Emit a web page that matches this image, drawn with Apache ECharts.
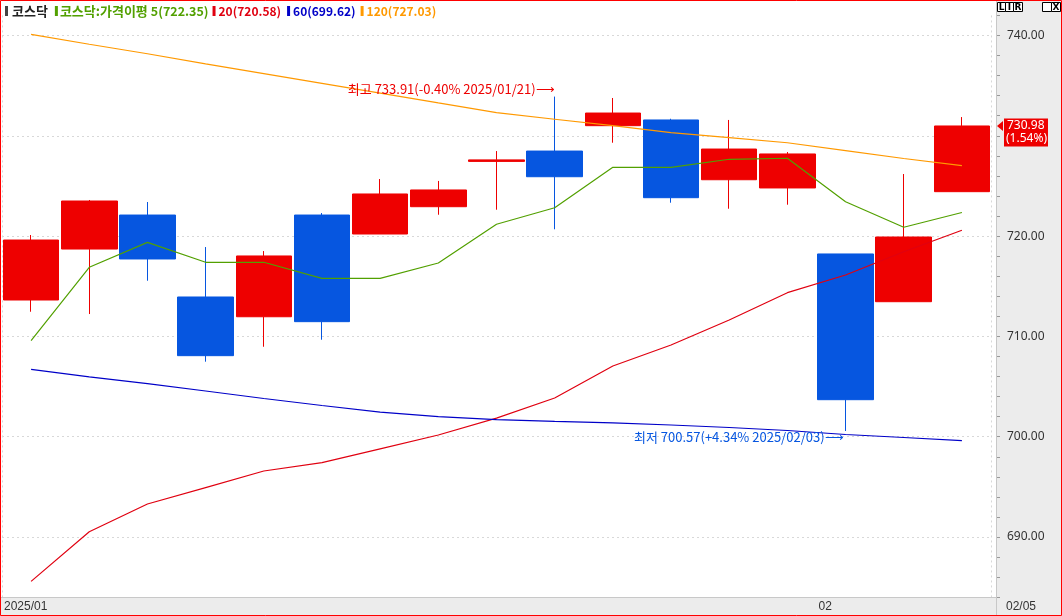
<!DOCTYPE html>
<html>
<head>
<meta charset="utf-8">
<script src="https://cdn.jsdelivr.net/npm/echarts@6/dist/echarts.min.js"></script>
<style>
html,body{margin:0;padding:0;background:#fff;}
#main{width:1062px;height:616px;}
</style>
</head>
<body>
<div id="main"></div>
<script>
// ---- data ----
const dates = ['2025/01/08','2025/01/09','2025/01/10','2025/01/13','2025/01/14','2025/01/15','2025/01/16','2025/01/17','2025/01/20','2025/01/21','2025/01/22','2025/01/23','2025/01/24','2025/01/31','2025/02/03','2025/02/04','2025/02/05'];
const openV  = [713.63, 718.71, 722.10, 713.93, 711.96, 722.10, 720.21, 722.93, 727.45, 728.48, 731.01, 731.58, 725.62, 724.80, 718.22, 713.46, 724.43];
const closeV = [719.61, 723.50, 717.72, 708.08, 718.02, 711.47, 724.20, 724.60, 727.60, 725.92, 732.27, 723.83, 728.68, 728.19, 703.69, 719.91, 730.98];
const lowV   = [712.46, 712.23, 715.55, 707.48, 708.97, 709.67, 720.21, 722.13, 722.63, 720.68, 729.31, 723.33, 722.73, 723.13, 700.57, 713.46, 724.43];
const highV  = [720.11, 723.60, 723.40, 718.91, 718.51, 722.30, 725.69, 725.50, 728.48, 733.91, 733.77, 731.70, 731.58, 728.38, 718.22, 726.19, 731.87];
const ma5   = [709.57, 716.89, 719.38, 717.39, 717.39, 715.79, 715.79, 717.32, 721.18, 722.83, 726.86, 726.86, 727.66, 727.76, 723.43, 720.88, 722.35];
const ma20  = [685.58, 690.53, 693.29, 694.93, 696.58, 697.41, 698.79, 700.17, 701.86, 703.86, 707.05, 709.14, 711.64, 714.36, 716.12, 718.44, 720.58];
const ma60  = [706.72, 705.96, 705.30, 704.56, 703.81, 703.11, 702.46, 702.01, 701.71, 701.52, 701.37, 701.17, 700.92, 700.62, 700.22, 699.92, 699.62];
const ma120 = [740.12, 739.13, 738.18, 737.18, 736.20, 735.23, 734.26, 733.28, 732.32, 731.65, 731.01, 730.31, 729.81, 729.31, 728.53, 727.74, 727.03];
const yGridValues = [690, 700, 710, 720, 730, 740];
const monthIdx = [0, 14];
const monthLabels = ['2025/01', '02'];
const lastDateLabel = '02/05';
const hiIdx = 9, loIdx = 14;

// ---- colours / fonts ----
const RED = '#ee0000', BLUE = '#0656e0';
const C5 = '#52a000', C20 = '#e00010', C60 = '#0000c8', C120 = '#ff9900';
const KR = '"Noto Sans CJK KR", "Noto Sans", sans-serif';
const NUM = '"Noto Sans", "Noto Sans CJK KR", sans-serif';

const last = closeV.length - 1;
const lastClose = closeV[last];
const f2 = v => v.toFixed(2);
const hiVal = highV[hiIdx], loVal = lowV[loIdx];
const hiPct = ((lastClose / hiVal - 1) * 100);
const loPct = ((lastClose / loVal - 1) * 100);
const sgn = v => (v >= 0 ? '+' : '') + v.toFixed(2);

const headerText =
  '{k|}{s4|}{t|코스닥}{s7|}{g0|}{s2|}{g|코스닥:가격이평 }{gn|5(' + f2(ma5[last]) + ')}{s4|}' +
  '{r0|}{s3|}{r|20(' + f2(ma20[last]) + ')}{s6|}' +
  '{b0|}{s3|}{b|60(' + f2(ma60[last]) + ')}{s5|}' +
  '{o0|}{s3|}{o|120(' + f2(ma120[last]) + ')}';

const mk = c => ({width: 3, height: 10, backgroundColor: c});
const sp = w => ({width: w});
const tx = (c, s) => ({fontFamily: KR, fontSize: s, color: c});

const xLabelVals = monthIdx.concat([dates.length]);

const option = {
  animation: false,
  backgroundColor: '#ffffff',
  title: {
    left: 5, top: 3, padding: 0,
    text: headerText,
    textStyle: {
      fontFamily: KR, fontSize: 13, lineHeight: 16,
      rich: {
        k: mk('#444444'), g0: mk(C5), r0: mk(C20), b0: mk(C60), o0: mk(C120),
        s2: sp(2), s3: sp(3), s4: sp(4), s5: sp(5), s6: sp(6), s7: sp(7),
        t: {fontFamily: KR, fontSize: 13, fontWeight: 'bold', color: '#222222'},
        g: tx(C5, 13), gn: tx(C5, 12.5),
        r: tx(C20, 12), b: tx(C60, 12), o: tx(C120, 12)
      }
    }
  },
  grid: {left: 2, right: 71, top: 15.44, bottom: 18.8, outerBoundsMode: 'none', containLabel: false},
  xAxis: [
    {
      type: 'category', data: dates, boundaryGap: true,
      axisLine: {show: true, onZero: false, lineStyle: {color: '#c8c8c8'}},
      axisTick: {show: false}, axisLabel: {show: false},
      splitLine: {show: true, interval: (i, v) => monthIdx.slice(1).indexOf(i) >= 0,
        lineStyle: {type: [2, 3], color: '#d8d8d8'}}
    },
    {
      type: 'value', min: 0, max: dates.length, position: 'bottom',
      axisLine: {show: false, onZero: false}, axisTick: {show: false}, splitLine: {show: false},
      axisLabel: {
        customValues: xLabelVals,
        showMinLabel: true, showMaxLabel: true, hideOverlap: false,
        formatter: v => {
          const r = Math.round(v);
          if (r === dates.length) return '{e|' + lastDateLabel + '}';
          const k = monthIdx.indexOf(r);
          return k >= 0 ? monthLabels[k] : '';
        },
        align: 'left', margin: 3, padding: [0, 0, 0, 2],
        fontFamily: '"Liberation Sans", sans-serif', fontSize: 12, color: '#333333',
        rich: {e: {padding: [0, 0, 0, 13], fontFamily: '"Liberation Sans", sans-serif', fontSize: 12, color: '#333333'}}
      }
    }
  ],
  yAxis: {
    type: 'value', position: 'right', offset: 5,
    min: 684, max: 742, interval: 2, scale: true,
    axisLine: {show: true, onZero: false, lineStyle: {color: '#c8c8c8'}},
    axisTick: {show: true, length: 4, lineStyle: {color: '#999999'}},
    splitLine: {show: false},
    axisLabel: {
      margin: 11, color: '#333333', fontFamily: NUM, fontSize: 12,
      formatter: v => (Math.round(v) % 10 === 0 ? v.toFixed(2) : '')
    }
  },
  series: [
    {
      name: '코스닥', type: 'candlestick', barWidth: 56, z: 2,
      data: dates.map((d, i) => [openV[i], closeV[i], lowV[i], highV[i]]),
      itemStyle: {color: RED, color0: BLUE, borderColor: RED, borderColor0: BLUE, borderWidth: 1},
      emphasis: {disabled: true},
      markLine: {
        z: 1, silent: true, symbol: ['none', 'none'], animation: false,
        label: {show: false},
        lineStyle: {type: [2, 3], color: '#d8d8d8', width: 1},
        emphasis: {disabled: true},
        data: yGridValues.map(v => ({yAxis: v}))
      },
      markPoint: {
        symbol: 'circle', symbolSize: 0, silent: true, animation: false,
        data: [
          {coord: [dates[hiIdx], hiVal],
           label: {show: true, position: 'left', distance: 0, offset: [0, -8], color: RED,
             fontFamily: KR, fontSize: 13,
             formatter: '최고 ' + f2(hiVal) + '(' + sgn(hiPct) + '% ' + dates[hiIdx] + ')⟶'}},
          {coord: [dates[loIdx], loVal],
           label: {show: true, position: 'left', distance: 2, offset: [0, 6], color: BLUE,
             fontFamily: KR, fontSize: 13,
             formatter: '최저 ' + f2(loVal) + '(' + sgn(loPct) + '% ' + dates[loIdx] + ')⟶'}}
        ]
      }
    },
    {name: '5', type: 'line', data: ma5, symbol: 'none', z: 3, lineStyle: {width: 1.2, color: C5}, emphasis: {disabled: true}},
    {name: '20', type: 'line', data: ma20, symbol: 'none', z: 3, lineStyle: {width: 1.2, color: C20}, emphasis: {disabled: true}},
    {name: '60', type: 'line', data: ma60, symbol: 'none', z: 3, lineStyle: {width: 1.2, color: C60}, emphasis: {disabled: true}},
    {name: '120', type: 'line', data: ma120, symbol: 'none', z: 3, lineStyle: {width: 1.2, color: C120}, emphasis: {disabled: true}}
  ]
};

const chart = echarts.init(document.getElementById('main'));
chart.setOption(option);

// price tag on the value axis, placed through the axis scale
const py = chart.convertToPixel({yAxisIndex: 0}, lastClose);
const chg = ((lastClose / closeV[last - 1] - 1) * 100).toFixed(2);
const btn = (x, w, t) => ({
  type: 'group', x: x, y: 2, z: 50, silent: true,
  children: [
    {type: 'rect', shape: {x: 0.5, y: 0.5, width: w, height: 9}, style: {fill: '#ffffff', stroke: '#000000', lineWidth: 1}},
    {type: 'text', x: w / 2 + 0.5, y: 5.5, style: {text: t, fill: '#000000', font: 'bold 9px "DejaVu Sans", sans-serif', align: 'center', verticalAlign: 'middle'}}
  ]
});
chart.setOption({
  graphic: [
    {type: 'rect', z: -10, silent: true, shape: {x: 996, y: 0, width: 66, height: 616}, style: {fill: '#ececec'}},
    {type: 'rect', z: -10, silent: true, shape: {x: 0, y: 598, width: 1062, height: 18}, style: {fill: '#ececec'}},
    {type: 'line', z: 20, silent: true, shape: {x1: 996.5, y1: 0, x2: 996.5, y2: 616}, style: {stroke: '#c8c8c8', lineWidth: 1}},
    {type: 'line', z: 20, silent: true, shape: {x1: 0, y1: 597.5, x2: 996, y2: 597.5}, style: {stroke: '#c8c8c8', lineWidth: 1}},
    {type: 'polygon', z: 60, silent: true, shape: {points: [[997, py], [1003, py - 5], [1003, py + 5]]}, style: {fill: RED}},
    {type: 'rect', z: 60, silent: true, shape: {x: 1004, y: py - 7.5, width: 44, height: 28}, style: {fill: RED}},
    {type: 'text', z: 61, silent: true, x: 1007, y: py, style: {text: lastClose.toFixed(2), fill: '#ffffff', font: '12px ' + NUM, verticalAlign: 'middle'}},
    {type: 'text', z: 61, silent: true, x: 1006, y: py + 13, style: {text: '(' + chg + '%)', fill: '#ffffff', font: '12px ' + NUM, verticalAlign: 'middle'}},
    btn(997, 8, 'L'), btn(1005, 8, 'I'), btn(1013, 9, 'R'),
    btn(1042, 9, '_'), btn(1051, 9, 'X'),
    {type: 'rect', z: 100, silent: true, shape: {x: 0.5, y: 0.5, width: 1061, height: 615}, style: {fill: 'none', stroke: '#ff0000', lineWidth: 1}}
  ]
});
</script>
</body>
</html>
